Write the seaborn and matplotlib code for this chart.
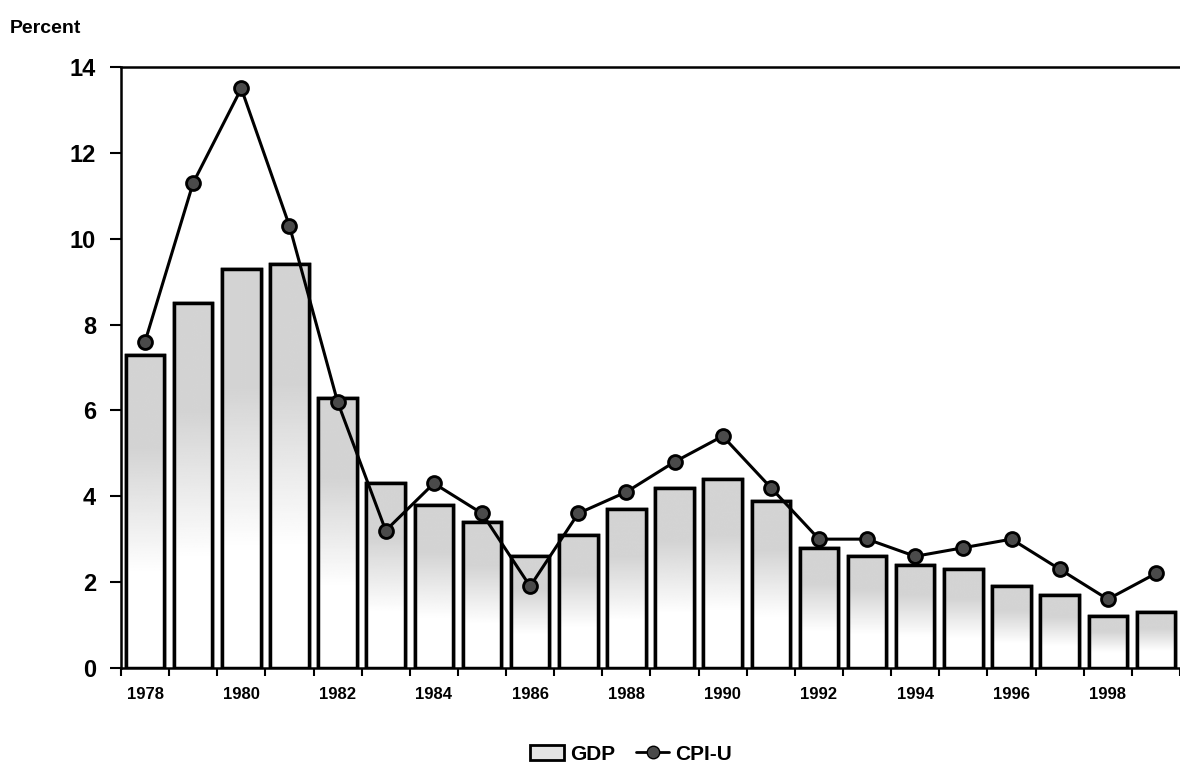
import numpy as np
import pandas as pd
import matplotlib
matplotlib.use("Agg")
import matplotlib.pyplot as plt
from matplotlib.patches import Patch
from matplotlib.lines import Line2D
from matplotlib.ticker import FixedLocator
import seaborn as sns

# Data
years = [str(y) for y in range(1978, 2000)]
gdp = [7.3, 8.5, 9.3, 9.4, 6.3, 4.3, 3.8, 3.4, 2.6, 3.1, 3.7,
       4.2, 4.4, 3.9, 2.8, 2.6, 2.4, 2.3, 1.9, 1.7, 1.2, 1.3]
cpi_u = [7.6, 11.3, 13.5, 10.3, 6.2, 3.2, 4.3, 3.6, 1.9, 3.6, 4.1,
         4.8, 5.4, 4.2, 3.0, 3.0, 2.6, 2.8, 3.0, 2.3, 1.6, 2.2]
y_ticks = [0, 2, 4, 6, 8, 10, 12, 14]

df = pd.DataFrame({"Year": years, "GDP": gdp, "CPI-U": cpi_u})

sns.set_style("white")
plt.rcParams["font.family"] = ["Liberation Sans", "DejaVu Sans"]
plt.rcParams["font.weight"] = "bold"
plt.rcParams["text.color"] = "black"
plt.rcParams["xtick.color"] = "black"
plt.rcParams["ytick.color"] = "black"

fig = plt.figure(figsize=(11.8, 7.83), dpi=100)
ax = fig.add_axes([0.1025, 0.147, 0.8975, 0.7674])

# Bars
sns.barplot(data=df, x="Year", y="GDP", color="#dcdcdc", edgecolor="black",
            linewidth=2.5, width=0.8, saturation=1, ax=ax, zorder=2)

# Gradient shading inside each bar (grey at top, white at bottom)
t = np.linspace(0, 1, 200)[:, None]
shade = 1 - 0.17 * np.clip((t - 0.3) / 0.4, 0, 1)
for bar in ax.patches:
    x0, x1 = bar.get_x(), bar.get_x() + bar.get_width()
    h = bar.get_height()
    im = ax.imshow(shade, cmap="gray", vmin=0, vmax=1, origin="lower",
                   extent=[x0, x1, 0, h], aspect="auto", zorder=2.5,
                   interpolation="bilinear")
    im.set_clip_path(bar)
    edge = plt.Rectangle((x0, 0), x1 - x0, h, fill=False, edgecolor="black",
                         linewidth=2.5, zorder=3)
    ax.add_patch(edge)

# CPI-U line
sns.pointplot(data=df, x="Year", y="CPI-U", color="black", markers="o",
              linestyles="-", ax=ax, zorder=4)
for ln in ax.lines:
    ln.set_linewidth(2.2)
    ln.set_markersize(10)
    ln.set_markerfacecolor("#4a4a4a")
    ln.set_markeredgecolor("black")
    ln.set_zorder(4)

ax.set_xlim(-0.5, len(years) - 0.5)
ax.set_ylim(0, 14)
ax.set_yticks(y_ticks)
ax.set_yticklabels([str(v) for v in y_ticks], fontsize=17, fontweight="bold")
ax.set_xticks(range(0, len(years), 2))
ax.set_xticklabels(years[::2], fontsize=12, fontweight="bold")
ax.xaxis.set_minor_locator(FixedLocator(np.arange(-0.5, len(years), 1)))
ax.tick_params(axis="x", which="major", length=0, pad=14)
ax.tick_params(axis="x", which="minor", direction="out", length=6, width=1.5,
               bottom=True)
ax.tick_params(axis="y", direction="out", length=8, width=1.5, left=True,
               pad=10)
ax.set_xlabel("")
ax.set_ylabel("")

for side in ["left", "bottom", "top"]:
    ax.spines[side].set_visible(True)
    ax.spines[side].set_color("black")
    ax.spines[side].set_linewidth(1.8)
ax.spines["right"].set_visible(False)

fig.text(0.008, 0.975, "Percent", fontsize=14, fontweight="bold", va="top")

handles = [
    Patch(facecolor="#e4e4e4", edgecolor="black", linewidth=2),
    Line2D([0], [0], color="black", linewidth=2, marker="o", markersize=9,
           markerfacecolor="#4a4a4a", markeredgecolor="black"),
]
fig.legend(handles, ["GDP", "CPI-U"], loc="center", ncol=2,
           bbox_to_anchor=(0.535, 0.037), frameon=False,
           prop={"size": 15, "weight": "bold"}, handlelength=1.6,
           handletextpad=0.3, columnspacing=1.0)

fig.savefig("out.png", dpi=100)
